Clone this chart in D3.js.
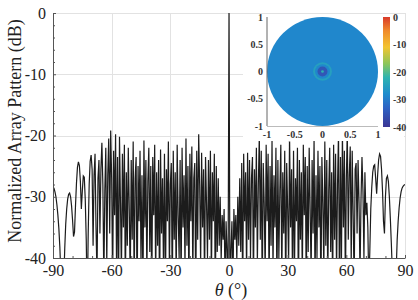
<!DOCTYPE html>
<html><head><meta charset="utf-8">
<script src="https://cdn.jsdelivr.net/npm/d3@7"></script>
<style>html,body{margin:0;padding:0;background:#fff;} svg{display:block;}</style>
</head><body><svg id="c" width="418" height="300"></svg>
<script>
// sample grid (deg) for the pattern
const thetaGrid = d3.range(-90, 90.25, 0.5);
// normalized array pattern (dB) at 0.5 deg steps
const patternDb = [
-28.4,-28.6,-29.2,-30.0,-31.3,-33.0,-35.2,-38.2,-42.5,-48,
-50,-44,-38.5,-34.5,-32,-30.4,-29.6,-29.4,-30.0,-31.5,
-33.8,-36.5,-35.8,-31.5,-27.8,-25.2,-24.3,-24.9,-27.5,-32,
-29,-26.6,-26.8,-30.5,-37,-48,-36,-28,-24.2,-23.2,
-25.5,-38,-26.5,-23,-35,-43,-27,-24,-36,-25.5,
-21.2,-28,-44,-29,-22,-41,-26.5,-20.5,-36,-19.2,
-27,-45,-22.5,-33,-19.8,-42,-23.5,-47,-20.2,-31,
-43,-23,-35,-21.5,-46,-26,-38,-22,-32,-44,
-24,-37,-21,-45,-27,-23.5,-48,-25,-34,-22.5,
-41,-26.5,-46,-20.8,-35,-24,-43,-27.5,-22,-39,
-25,-47,-23.5,-33,-21.5,-44,-26,-38,-24,-48,
-22.3,-36,-27,-42,-23,-46,-25.5,-34,-21,-41,
-28,-24.5,-47,-22.5,-37,-26,-44,-21.5,-33,-40,
-24,-45,-22,-35,-26.5,-42,-20.5,-38,-25,-46,
-23,-34,-21.8,-43,-27,-24.5,-48,-22.5,-37,-19.8,
-28,-41,-22.8,-35,-25.5,-45,-23.5,-31,-40,-24,
-37,-22.5,-44,-26,-34,-23,-48,-25,-39,-27,
-38,-30,-40.5,-33,-37,-32,-45,-34,-39,-46,
0,
-46,-39,-34,-45,-32,-37,-33,-40.5,-30,-38,
-27,-39,-24.5,-47,-23,-34,-26,-43,-22.8,-37,
-24,-40,-27,-23.5,-45,-25.5,-35,-22,-41,-28,
-20,-37,-22.5,-47,-24.5,-31,-43,-21.5,-34,-23,
-45,-25,-38,-20.8,-42,-26.5,-35,-22,-46,-24,
-40,-29,-21.5,-44,-26,-36,-22.5,-47,-24.5,-32,
-41,-21,-35,-25.5,-45,-22.5,-42,-27,-34,-22,
-48,-24,-37,-26,-44,-21.5,-33,-23.5,-46,-25,
-39,-22,-32,-43,-24,-36,-20.5,-45,-26.5,-40,
-22.5,-35,-25,-48,-23.5,-31,-42,-21,-38,-24,
-44,-29,-22,-39,-26,-46,-21.5,-37,-23,-43,
-28,-19.5,-47,-23.5,-41,-19.2,-35,-22.5,-44,-27,
-19.5,-37,-26.5,-21.8,-41,-22.5,-33,-45,-25.5,-24.5,
-36,-24,-31,-43,-30.5,-23.5,-29,-40,-26,-33,
-31,-35,-45,-39,-32,-28.5,-26,-25,-24.8,-27,
-29.5,-26.5,-24,-23,-23.4,-25.5,-29,-34,-36,-30,
-27,-26.6,-27.5,-30,-33.5,-37.5,-42,-48,-52,-47,
-42,-37,-34,-31.8,-30.2,-29.2,-28.6,-28.3,-28.1,-28.0
];
const xTickValues = [-90,-60,-30,0,30,60,90];
const yTickValues = [-40,-30,-20,-10,0];
const yMinorTicks = [-38,-36,-34,-32,-28,-26,-24,-22,-18,-16,-14,-12,-8,-6,-4,-2];
const xMinorTicks = [-80,-70,-50,-40,-20,-10,10,20,40,50,70,80];
const insetTicks = [-1,-0.5,0,0.5,1];
const insetTickLabels = ["-1","-0.5","0","0.5","1"];
const colorbarTicks = [0,-10,-20,-30,-40];
const insetRadii = [1, 0.17, 0.135, 0.09, 0.025];
const insetLevels = [-28.6, -25, -28.6, -35, -22];

const serif = '"Liberation Serif","Times New Roman",serif';
const fmt = d => String(d);
const svg = d3.select('#c');
const x = d3.scaleLinear().domain([-90,90]).range([53,405]);
const y = d3.scaleLinear().domain([-40,0]).range([258,13]);

// gridlines
const grid = svg.append('g').attr('stroke','#e2e2e2').attr('stroke-width',1);
grid.selectAll('line.v').data(xTickValues.filter(d=>d>-90)).join('line')
  .attr('x1',d=>Math.round(x(d))+0.5).attr('x2',d=>Math.round(x(d))+0.5)
  .attr('y1',y(0)).attr('y2',y(-40));
grid.selectAll('line.h').data(yTickValues.filter(d=>d>-40)).join('line')
  .attr('y1',d=>Math.round(y(d))+0.5).attr('y2',d=>Math.round(y(d))+0.5)
  .attr('x1',x(-90)).attr('x2',x(90));

// clip
svg.append('clipPath').attr('id','pc').append('rect')
  .attr('x',x(-90)).attr('y',y(0)-1).attr('width',x(90)-x(-90)).attr('height',y(-40)-y(0)+1);

const line = d3.line().x((d,i)=>x(thetaGrid[i])).y(d=>y(d));
svg.append('path').datum(patternDb).attr('clip-path','url(#pc)')
  .attr('d',line).attr('fill','none').attr('stroke','#1c1c1c').attr('stroke-width',1.2)
  .attr('stroke-linejoin','miter');

// axes
const yAxis = svg.append('g').attr('transform',`translate(${x(-90)},0)`)
  .call(d3.axisLeft(y).tickValues(yTickValues).tickFormat(fmt).tickSize(-3).tickSizeOuter(0).tickPadding(7));
const yMinor = svg.append('g').attr('transform',`translate(${x(-90)},0)`)
  .call(d3.axisLeft(y).tickValues(yMinorTicks).tickSize(-2).tickSizeOuter(0).tickFormat(''));
yMinor.select('.domain').remove();
const xAxis = svg.append('g').attr('transform',`translate(0,${y(-40)})`)
  .call(d3.axisBottom(x).tickValues(xTickValues).tickFormat(fmt).tickSize(-3).tickSizeOuter(0).tickPadding(7));
const xMinor = svg.append('g').attr('transform',`translate(0,${y(-40)})`)
  .call(d3.axisBottom(x).tickValues(xMinorTicks).tickSize(-2).tickSizeOuter(0).tickFormat(''));
xMinor.select('.domain').remove();
[yAxis,xAxis,yMinor,xMinor].forEach(g=>{
  g.selectAll('.domain').attr('stroke','#555');
  g.selectAll('.tick line').attr('stroke','#555');
  g.selectAll('text').attr('font-family',serif).attr('font-size',16).attr('fill','#222');
});

// axis labels
svg.append('text').attr('transform','translate(21,131) rotate(-90)')
  .attr('text-anchor','middle').attr('font-family',serif).attr('font-size',18).attr('fill','#222')
  .text('Normalized Array Pattern (dB)');
const xl = svg.append('text').attr('x',231).attr('y',296).attr('text-anchor','middle')
  .attr('font-family',serif).attr('font-size',18).attr('fill','#222');
xl.append('tspan').attr('font-style','italic').text('θ');
xl.append('tspan').text(' (°)');

// inset
svg.append('rect').attr('x',243).attr('y',14).attr('width',161).attr('height',127).attr('fill','#fff');
const u = d3.scaleLinear().domain([-1,1]).range([267,378]);
const v = d3.scaleLinear().domain([-1,1]).range([126,17]);
const color = d3.scaleLinear()
  .domain([-40,-33,-28,-22,-17,-11,-5,0])
  .range(['#3b3594','#2d63c4','#1e8ccd','#2eb3b0','#8cc65a','#f2c431','#f08a2c','#d93a2a']);
const ins = svg.append('g');
ins.selectAll('ellipse').data(insetRadii).join('ellipse')
  .attr('cx',u(0)).attr('cy',v(0))
  .attr('rx',d=>u(d)-u(0)).attr('ry',d=>v(0)-v(d))
  .attr('fill',(d,i)=>color(insetLevels[i]));
// inset axes
ins.append('line').attr('x1',u(-1)).attr('x2',u(-1)).attr('y1',v(1)).attr('y2',v(-1)).attr('stroke','#666');
ins.append('line').attr('x1',u(-1)).attr('x2',u(1)).attr('y1',v(-1)+0.5).attr('y2',v(-1)+0.5).attr('stroke','#bbb');
ins.selectAll('text.yl').data(insetTicks).join('text')
  .attr('x',u(-1)-4).attr('y',d=>v(d)).attr('dy','0.35em').attr('text-anchor','end')
  .attr('font-family',serif).attr('font-size',10).attr('font-weight','bold').attr('fill','#333')
  .text((d,i)=>insetTickLabels[i]);
ins.selectAll('text.xl').data(insetTicks).join('text')
  .attr('x',d=>u(d)).attr('y',v(-1)+12).attr('text-anchor','middle')
  .attr('font-family',serif).attr('font-size',10).attr('font-weight','bold').attr('fill','#333')
  .text((d,i)=>insetTickLabels[i]);
// colorbar
const cb = d3.scaleLinear().domain([-40,0]).range([127,17]);
const defs = svg.append('defs');
const grad = defs.append('linearGradient').attr('id','cbg').attr('x1',0).attr('y1',1).attr('x2',0).attr('y2',0);
grad.selectAll('stop').data(color.domain()).join('stop')
  .attr('offset',d=>(d+40)/40).attr('stop-color',d=>color(d));
svg.append('rect').attr('x',383).attr('y',cb(0)).attr('width',7).attr('height',cb(-40)-cb(0)).attr('fill','url(#cbg)');
svg.selectAll('text.cb').data(colorbarTicks).join('text')
  .attr('x',393).attr('y',d=>cb(d)).attr('dy','0.35em')
  .attr('font-family',serif).attr('font-size',10).attr('font-weight','bold').attr('fill','#333')
  .text(d=>d);
</script></body></html>
